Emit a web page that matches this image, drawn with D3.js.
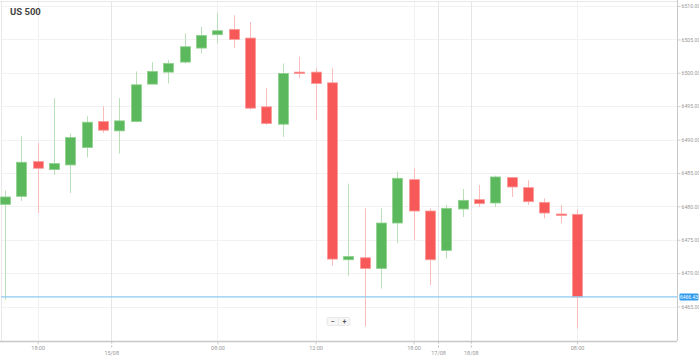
<!DOCTYPE html>
<html><head><meta charset="utf-8">
<script src="https://cdn.jsdelivr.net/npm/d3@7"></script>
<style>html,body{margin:0;padding:0;background:#fff;}svg{display:block;font-family:Roboto,"Open Sans",sans-serif;}</style>
</head><body><svg id="c" width="699" height="359"></svg>
<script>
const title = "US 500";
const opens  = [6480.3,6481.5,6486.7,6485.5,6486.2,6488.8,6492.7,6491.3,6492.7,6498.3,6500.1,6501.6,6503.7,6505.7,6506.5,6505.2,6494.9,6492.3,6500.1,6500.1,6498.5,6472.0,6472.3,6470.7,6477.5,6484.0,6479.3,6473.4,6479.6,6481.0,6480.5,6484.3,6482.8,6480.6,6478.85,6478.8];
const closes = [6481.4,6486.6,6485.7,6486.4,6490.3,6492.6,6491.4,6492.8,6498.2,6500.2,6501.4,6503.9,6505.6,6506.3,6505.0,6494.7,6492.4,6499.9,6499.9,6498.4,6472.1,6472.5,6470.7,6477.5,6484.2,6479.3,6472.0,6479.7,6480.9,6480.4,6484.4,6482.9,6480.7,6479.0,6478.75,6466.43];
const highs  = [6482.4,6490.5,6489.5,6496.2,6490.9,6493.5,6495.0,6496.2,6500.2,6501.6,6501.9,6505.9,6506.9,6508.9,6508.6,6507.6,6497.7,6501.4,6502.4,6500.7,6500.7,6483.4,6479.7,6479.7,6485.2,6485.7,6479.7,6480.2,6482.6,6483.2,6484.6,6484.4,6483.9,6481.2,6480.2,6479.55];
const lows   = [6466.0,6480.8,6479.0,6484.7,6482.0,6487.3,6491.0,6487.9,6492.6,6498.3,6498.4,6501.4,6502.9,6504.4,6503.7,6494.5,6492.2,6490.4,6499.2,6492.9,6471.1,6469.6,6462.0,6467.7,6474.5,6475.0,6468.2,6472.2,6478.4,6479.9,6479.9,6481.4,6480.2,6478.2,6477.5,6461.7];
const yTicks = [6465,6470,6475,6480,6485,6490,6495,6500,6505,6510];
const lastPrice = 6466.43;
const timeTickPos = [2,13,19,25,35];
const timeTickLabels = ["18:00","08:00","12:00","18:00","08:00"];
const dateTickPos = [6.5,26.5,28.5];
const dateTickLabels = ["15/08","17/08","18/08"];

const svg = d3.select("#c");
const L = 1, R = 677, T = 1, B = 341;
const x = d3.scaleLinear().domain([0,35]).range([5,577]);
const y = d3.scaleLinear().domain([6465,6510]).range([306.5,6.0]);
const data = opens.map((o,i)=>({i,o,c:closes[i],h:highs[i],l:lows[i]}));

// grid
const g = svg.append("g");
g.selectAll("line.hg").data(yTicks).join("line")
  .attr("x1",L).attr("x2",R).attr("y1",d=>Math.round(y(d))+0.5).attr("y2",d=>Math.round(y(d))+0.5)
  .attr("stroke","#f2f2f2").attr("stroke-width",1);
g.selectAll("line.vg").data(timeTickPos).join("line")
  .attr("x1",d=>Math.round(x(d))+0.5).attr("x2",d=>Math.round(x(d))+0.5).attr("y1",T).attr("y2",B)
  .attr("stroke","#f0f0f0");
g.selectAll("line.dg").data(dateTickPos).join("line")
  .attr("x1",d=>Math.round(x(d))+0.5).attr("x2",d=>Math.round(x(d))+0.5).attr("y1",T).attr("y2",B)
  .attr("stroke","#e6e6e6");
// frame
svg.append("line").attr("x1",0).attr("x2",R).attr("y1",T+0.5).attr("y2",T+0.5).attr("stroke","#e8e8e8");
svg.append("line").attr("x1",L+0.5).attr("x2",L+0.5).attr("y1",T).attr("y2",B).attr("stroke","#e8e8e8");

// candles
const up = d=>d.c>=d.o;
const cg = svg.append("g");
cg.selectAll("line.wick").data(data).join("line")
  .attr("x1",d=>Math.round(x(d.i))+0.5).attr("x2",d=>Math.round(x(d.i))+0.5)
  .attr("y1",d=>y(d.h)).attr("y2",d=>y(d.l))
  .attr("stroke",d=>up(d)?"#b9e0b9":"#fbbcbc").attr("stroke-width",1);
cg.selectAll("rect.body").data(data).join("rect")
  .attr("x",d=>Math.round(x(d.i))-4.5).attr("width",10)
  .attr("y",d=>y(Math.max(d.o,d.c)))
  .attr("height",d=>Math.max(1.5,Math.abs(y(d.o)-y(d.c))))
  .attr("fill",d=>up(d)?"#5cb85c":"#f75959")
  .attr("stroke",d=>up(d)?"#8fd18f":"#fb9a9a").attr("stroke-width",0.8);

// last price line
svg.append("line").attr("x1",L).attr("x2",R).attr("y1",y(lastPrice)).attr("y2",y(lastPrice))
  .attr("stroke","#8ccaf2").attr("stroke-width",1.2);

// right axis
const ra = svg.append("g").attr("transform",`translate(${R+0.5},0)`);
ra.call(d3.axisRight(y).tickValues(yTicks).tickSize(3).tickPadding(1).tickFormat(d3.format(".2f")));
ra.select(".domain").remove();
ra.append("line").attr("x1",0).attr("x2",0).attr("y1",0).attr("y2",B).attr("stroke","#c8c8c8");
ra.selectAll(".tick line").attr("stroke","#cfcfcf");
ra.selectAll(".tick text").attr("fill","#999").attr("font-size",5.2).attr("font-family","Roboto, sans-serif");
const lp = ra.append("g").attr("transform",`translate(2,${y(lastPrice)})`);
lp.append("rect").attr("x",0).attr("y",-3.5).attr("width",19).attr("height",7).attr("rx",1).attr("fill","#2f9bef");
lp.append("text").attr("x",9.5).attr("y",0).attr("dy","0.35em").attr("text-anchor","middle")
  .attr("fill","#fff").attr("font-size",5).text(d3.format(".2f")(lastPrice));

// bottom axis
const ba = svg.append("g").attr("transform",`translate(0,${B+0.5})`);
ba.append("line").attr("x1",0).attr("x2",R).attr("stroke","#c8c8c8").attr("stroke-width",1.5);
const bt = d3.axisBottom(x).tickValues(timeTickPos).tickSize(3).tickPadding(2)
  .tickFormat((d,i)=>timeTickLabels[i]);
const tg = ba.append("g").call(bt);
tg.select(".domain").remove();
tg.selectAll(".tick line").attr("stroke","#cfcfcf");
tg.selectAll(".tick text").attr("fill","#999").attr("font-size",5.5).attr("font-family","Roboto, sans-serif");
const dt = d3.axisBottom(x).tickValues(dateTickPos).tickSize(8).tickPadding(2)
  .tickFormat((d,i)=>dateTickLabels[i]);
const dg = ba.append("g").call(dt);
dg.select(".domain").remove();
dg.selectAll(".tick line").attr("stroke","#bbb").attr("stroke-dasharray","2,2");
dg.selectAll(".tick text").attr("fill","#999").attr("font-size",5.5).attr("font-family","Roboto, sans-serif");

// title
svg.append("text").attr("x",10).attr("y",15).attr("font-size",9.5).attr("font-weight","bold")
  .attr("fill","#444").attr("font-family","Roboto, sans-serif").text(title);

// zoom control
const zc = svg.append("g").attr("transform","translate(327,317.5)");
zc.append("rect").attr("width",23).attr("height",8).attr("rx",1.5).attr("fill","#f7f7f7").attr("stroke","#ddd").attr("stroke-width",0.6);
zc.append("line").attr("x1",11.5).attr("x2",11.5).attr("y1",0.5).attr("y2",7.5).attr("stroke","#ddd").attr("stroke-width",0.6);
zc.append("text").attr("x",6).attr("y",4).attr("dy","0.35em").attr("text-anchor","middle").attr("font-size",7).attr("font-weight","bold").attr("fill","#555").text("−");
zc.append("text").attr("x",17.5).attr("y",4).attr("dy","0.35em").attr("text-anchor","middle").attr("font-size",7).attr("font-weight","bold").attr("fill","#555").text("+");
</script></body></html>
